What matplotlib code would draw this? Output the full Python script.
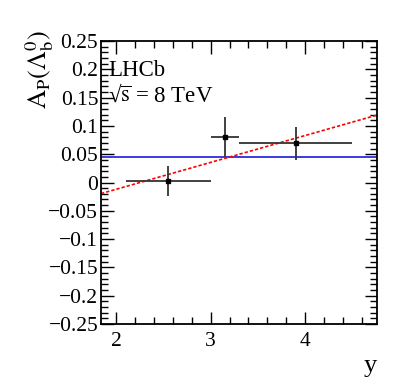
import matplotlib
matplotlib.use("Agg")
import matplotlib.pyplot as plt
import numpy as np
from matplotlib.ticker import MultipleLocator, FixedLocator

plt.rcParams['font.family'] = ['Liberation Serif', 'DejaVu Serif']
plt.rcParams['mathtext.fontset'] = 'stix'

# data
y_centers = [2.55, 3.15, 3.90]
y_low = [2.10, 3.00, 3.30]
y_high = [3.00, 3.30, 4.50]
ap_values = [0.003, 0.080, 0.069]
ap_errors = [0.027, 0.035, 0.029]
const_fit = 0.045
lin_intercept = -0.107  # A_P at y=0
lin_slope = 0.0475

fig = plt.figure(figsize=(3.99, 3.88), dpi=100)
ax = fig.add_axes([101/399, 1-324/388, (377-101)/399, (324-41)/388])

xmin, xmax = 1.84, 4.76
ax.set_xlim(xmin, xmax)
ax.set_ylim(-0.25, 0.25)

xc = np.array(y_centers)
xerr = [xc - np.array(y_low), np.array(y_high) - xc]
ax.errorbar(xc, ap_values, xerr=xerr, yerr=ap_errors, fmt='s', ms=2.5,
            color='black', ecolor='#333333', elinewidth=1.3, capsize=0, zorder=3)

ax.axhline(const_fit, color='#1a1adc', lw=1.2, zorder=2)
xl = np.array([xmin, xmax])
ax.plot(xl, lin_intercept + lin_slope * xl, color='red', ls=(0, (2, 1.2)), lw=1.2, zorder=2)

ax.xaxis.set_major_locator(FixedLocator([2, 3, 4]))
ax.xaxis.set_minor_locator(MultipleLocator(0.2))
ax.yaxis.set_major_locator(MultipleLocator(0.05))
ax.yaxis.set_minor_locator(MultipleLocator(0.01))
ax.tick_params(which='both', direction='in', top=True, right=True, labelsize=15.5, width=1.0)
ax.tick_params(which='major', length=9)
ax.tick_params(which='minor', length=5)
for s in ax.spines.values():
    s.set_linewidth(1.3)

ax.set_yticks(np.round(np.arange(-0.25, 0.2501, 0.05), 2))
ax.set_yticklabels(['\u22120.25', '\u22120.2', '\u22120.15', '\u22120.1', '\u22120.05', '0',
                    '0.05', '0.1', '0.15', '0.2', '0.25'])
ax.set_xticklabels(['2', '3', '4'])
ax.tick_params(axis='x', pad=6)
ax.tick_params(axis='y', pad=2)

fig.text(40/399, 1-30/388, r'$\mathrm{A}_{\mathrm{P}}(\Lambda_{\mathrm{b}}^{0})$', rotation=90,
         ha='center', va='top', fontsize=19)
fig.text(370/399, 1-366/388, 'y', ha='center', va='center', fontsize=19)
ax.text(108/399, 1-71/388, 'LHCb', transform=fig.transFigure, ha='left', va='center', fontsize=16.5)
ax.text(108/399, 1-96/388, '\u221a' + r'$\overline{\mathrm{s}}$ = 8 TeV', transform=fig.transFigure,
        ha='left', va='center', fontsize=16.5)

fig.savefig('out.png', dpi=100)
